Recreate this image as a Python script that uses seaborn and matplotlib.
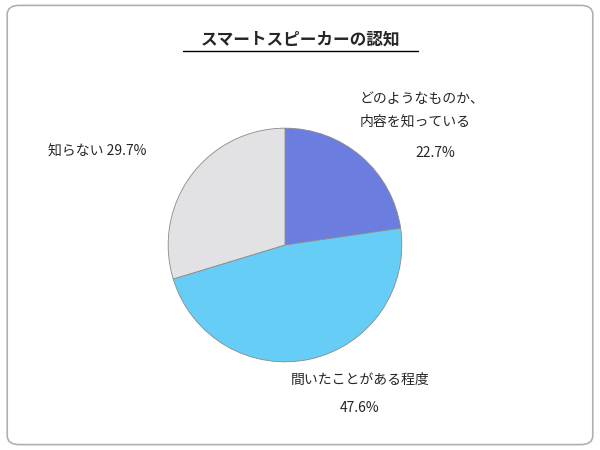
import matplotlib.pyplot as plt
import seaborn as sns
from matplotlib.patches import FancyBboxPatch
from matplotlib.lines import Line2D

labels = ["どのようなものか、\n内容を知っている", "間いたことがある程度", "知らない"]
values = [22.7, 47.6, 29.7]
colors = ["#6b7ee0", "#66cdf6", "#e2e2e4"]

sns.set_theme(style="white")
plt.rcParams['font.family'] = ['Noto Sans CJK JP', 'DejaVu Sans']

fig = plt.figure(figsize=(6, 4.5), dpi=100)
fig.patches.append(FancyBboxPatch((0.012, 0.012), 0.976, 0.976,
                                  boxstyle="round,pad=0,rounding_size=0.02",
                                  transform=fig.transFigure, fill=False,
                                  edgecolor="#b0b0b0", linewidth=1.2))

ax = fig.add_axes([167 / 600, 87 / 450, 236 / 600, 236 / 450])
ax.pie(values, colors=colors, startangle=90, counterclock=False,
       wedgeprops=dict(edgecolor="#8a8a8a", linewidth=0.6))
ax.set_xlim(-1.01, 1.01)
ax.set_ylim(-1.01, 1.01)
ax.set_aspect("equal")

fig.text(0.5, 1 - 40 / 450, "スマートスピーカーの認知", ha="center", va="center",
         fontsize=12, fontweight="bold")
fig.lines.append(Line2D([183 / 600, 418 / 600], [1 - 51 / 450] * 2, transform=fig.transFigure,
                        color="black", linewidth=1))

fig.text(360 / 600, 1 - 110 / 450, labels[0], ha="left", va="center",
         fontsize=10, linespacing=1.8)
fig.text(455 / 600, 1 - 153 / 450, f"{values[0]}%", ha="right", va="center", fontsize=10)
fig.text(48 / 600, 1 - 152 / 450, f"{labels[2]} {values[2]}%", ha="left", va="center",
         fontsize=10)
fig.text(360 / 600, 1 - 380 / 450, labels[1], ha="center", va="center", fontsize=10)
fig.text(360 / 600, 1 - 408 / 450, f"{values[1]}%", ha="center", va="center", fontsize=10)

fig.savefig("out.png", dpi=100)
